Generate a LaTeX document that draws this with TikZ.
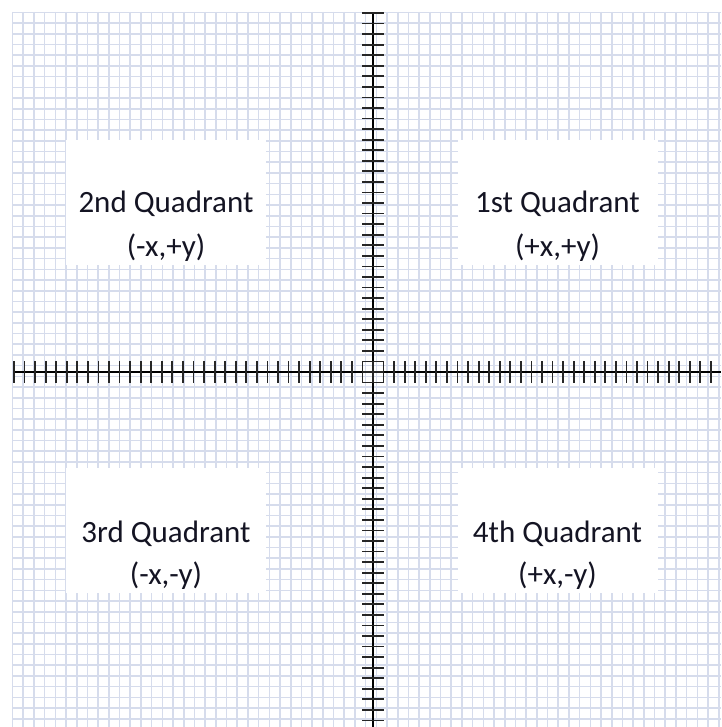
\documentclass[tikz,border=0pt]{standalone}
\usepackage{fontspec}
\setmainfont{Carlito}
\definecolor{gridblue}{RGB}{214,220,236}
\definecolor{textdark}{RGB}{20,20,35}
\begin{document}
\begin{tikzpicture}[x=1pt,y=-1pt,
  gridline/.style={draw=gridblue,line width=1.6pt},
  axisline/.style={draw=black,line width=1.9pt},
  tickline/.style={draw=black!85,line width=1.8pt},
  qbox/.style={rectangle,fill=white,draw=none,inner sep=0pt,minimum width=200pt,minimum height=125pt},
  qtext/.style={anchor=base,inner sep=0pt,text=textdark,font=\fontsize{31}{36}\selectfont}]
\useasboundingbox (0,0) rectangle (721,727);
\fill[white] (0,0) rectangle (721,727);
\begin{scope}
  \clip (12,12) rectangle (721,727);
  \foreach \k in {0,...,67} {
    \draw[gridline] ({12.5+\k*10.7},12) -- ({12.5+\k*10.7},727);
    \draw[gridline] (12,{12.5+\k*10.7}) -- (721,{12.5+\k*10.7});
  }
\end{scope}
% quadrant boxes
\node[qbox] (b2) at (166,202.5) {};
\node[qbox] (b1) at (557.5,202.5) {};
\node[qbox] (b3) at (166,530) {};
\node[qbox] (b4) at (557.5,530) {};
% texts
\node[qtext] (t2a) at (166,213) {2nd Quadrant};
\node[qtext] (t2b) at (166,256) {(-x,+y)};
\node[qtext] (t1a) at (557.5,213) {1st Quadrant};
\node[qtext] (t1b) at (557.5,256) {(+x,+y)};
\node[qtext] (t3a) at (166,542) {3rd Quadrant};
\node[qtext] (t3b) at (166,584) {(-x,-y)};
\node[qtext] (t4a) at (557.5,542) {4th Quadrant};
\node[qtext] (t4b) at (557.5,584) {(+x,-y)};
% axes
\coordinate (ytop) at (373,13);
\coordinate (ybot) at (373,727);
\coordinate (xleft) at (14,372);
\coordinate (xright) at (721,372);
\draw[axisline] (ytop) -- (ybot);
\draw[axisline] (xleft) -- (xright);
\foreach \k in {-34,...,33} {
  \draw[tickline] (362,{372+\k*10.56}) -- (384,{372+\k*10.56});
}
\foreach \k in {-34,...,32} {
  \draw[tickline] ({373+\k*10.56},361) -- ({373+\k*10.56},383);
}
\end{tikzpicture}
\end{document}
